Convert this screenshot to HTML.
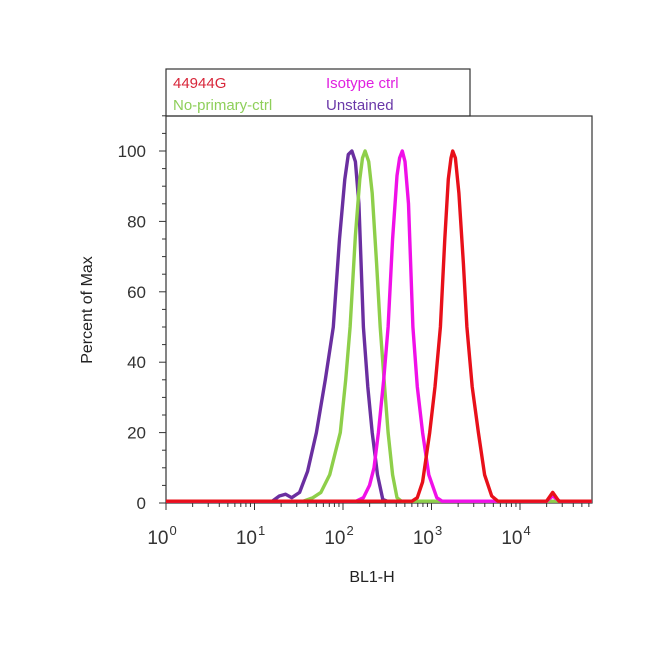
<!DOCTYPE html>
<html><head><meta charset="utf-8"><style>
body{margin:0;background:#fff;}
svg text{font-family:"Liberation Sans",sans-serif;}
</style></head><body>
<svg width="650" height="658" viewBox="0 0 650 658" xmlns="http://www.w3.org/2000/svg">
<rect width="650" height="658" fill="#fff"/>
<g>
<rect x="166" y="69" width="304" height="47" fill="#fff" stroke="#333" stroke-width="1.2"/>
<text x="173" y="88" font-size="15" fill="#d8263a">44944G</text>
<text x="326" y="88" font-size="15" fill="#e020e0">Isotype ctrl</text>
<text x="173" y="110" font-size="15" fill="#8ecf5a">No-primary-ctrl</text>
<text x="326" y="110" font-size="15" fill="#6a38a8">Unstained</text>
</g>
<rect x="166" y="116" width="426" height="387" fill="none" stroke="#333" stroke-width="1.2"/>
<g id="axes"></g>
<g id="series"></g>
<text transform="translate(92,310) rotate(-90)" text-anchor="middle" font-size="16" fill="#222">Percent of Max</text>
<text x="372" y="582" text-anchor="middle" font-size="16" fill="#222">BL1-H</text>
</svg>
<script>
const yTicks=[0,20,40,60,80,100];
const xDecades=[0,1,2,3,4];
const seriesNames=["Unstained","No-primary-ctrl","Isotype ctrl","44944G"];
const seriesColors=["#6a2fa0","#8ecf4a","#f010e8","#e8101a"];
const unstainedX=[0,1.2,1.28,1.35,1.42,1.51,1.6,1.7,1.8,1.89,1.96,2.02,2.06,2.10,2.14,2.18,2.23,2.28,2.33,2.39,2.45,2.5,4.81];
const unstainedY=[0.5,0.5,2,2.5,1.5,3,9,20,35,50,75,92,99,100,97,85,50,33,20,8,1,0.5,0.5];
const noPrimaryX=[0,1.55,1.66,1.75,1.85,1.97,2.03,2.08,2.14,2.19,2.22,2.25,2.29,2.33,2.38,2.42,2.47,2.51,2.56,2.61,2.66,4.81];
const noPrimaryY=[0.5,0.5,1.5,3,8,20,35,50,76,92,98,100,97,88,68,50,33,20,8,1.5,0.5,0.5];
const isotypeX=[0,2.15,2.23,2.3,2.35,2.4,2.46,2.51,2.56,2.61,2.64,2.67,2.7,2.74,2.79,2.84,2.9,2.97,3.06,3.12,4.3,4.37,4.45,4.81];
const isotypeY=[0.5,0.5,1.5,5,10,20,35,50,75,93,98,100,97,85,50,33,20,8,1.5,0.5,0.5,2,0.5,0.5];
const antibodyX=[0,2.78,2.84,2.9,2.98,3.04,3.1,3.15,3.19,3.22,3.24,3.27,3.31,3.36,3.4,3.46,3.53,3.6,3.68,3.75,4.3,4.37,4.44,4.81];
const antibodyY=[0.5,0.5,1.5,6,20,33,50,75,92,98,100,98,88,68,50,33,20,8,2,0.5,0.5,3,0.5,0.5];
const L=166,R=592,T=116,B=503,PPD=88.5;
const sx=v=>L+v*PPD, sy=v=>B-v*3.52;
const NS="http://www.w3.org/2000/svg";
const ax=document.getElementById("axes");
function mk(tag,attrs,parent){const e=document.createElementNS(NS,tag);for(const k in attrs)e.setAttribute(k,attrs[k]);parent.appendChild(e);return e;}
for(let v=0;v<=110;v+=5){const major=v%20===0;const l=mk("line",{x1:L-(major?7:4),x2:L,y1:sy(v),y2:sy(v),stroke:"#333","stroke-width":1},ax);

}
yTicks.forEach(v=>{const t=mk("text",{x:L-20,y:sy(v)+6,"text-anchor":"end","font-size":17,fill:"#333"},ax);t.textContent=v;

});
for(let d=0;d<5;d++){for(let m=1;m<10;m++){const p=d+Math.log10(m);const x=sx(p);if(x>R)break;const l=mk("line",{x1:x,x2:x,y1:B,y2:B+(m===1?7:4),stroke:"#333","stroke-width":1},ax);

}}
xDecades.forEach(d=>{const t=mk("text",{x:sx(d)-4,y:B+41,"text-anchor":"middle","font-size":19,fill:"#333"},ax);t.textContent="10";


const s=mk("tspan",{dx:1,dy:-9,"font-size":13},t);s.textContent=String(d);});
const sg=document.getElementById("series");
const xs=[unstainedX,noPrimaryX,isotypeX,antibodyX], ys=[unstainedY,noPrimaryY,isotypeY,antibodyY];
xs.forEach((X,i)=>{const pts=X.map((x,j)=>sx(x).toFixed(1)+","+sy(ys[i][j]).toFixed(1)).join(" ");
const p=mk("polyline",{points:pts,fill:"none",stroke:seriesColors[i],"stroke-width":3.4,"stroke-linejoin":"round"},sg);

});
</script>
</body></html>
